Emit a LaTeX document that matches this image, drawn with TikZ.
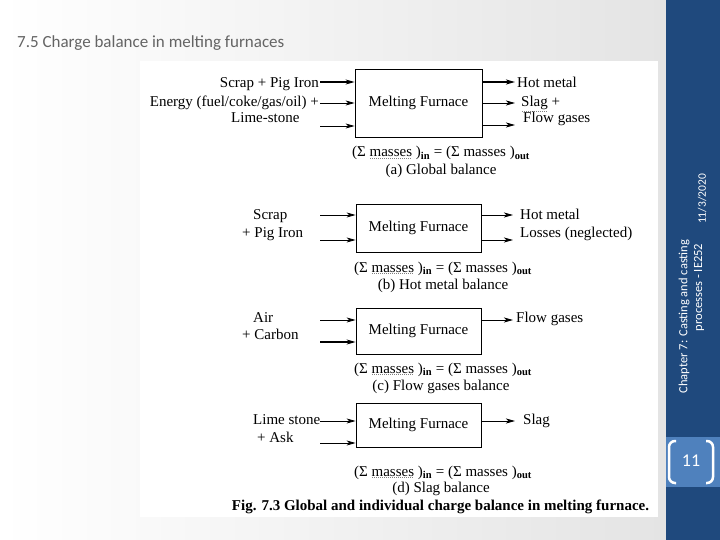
\documentclass[tikz,border=0pt]{standalone}
\usepackage{fontspec}
\setmainfont{Liberation Serif}
\newfontfamily\calfont{Carlito}
\usetikzlibrary{arrows.meta}
\definecolor{band}{RGB}{31,73,125}
\definecolor{bandlt}{RGB}{79,129,189}
\definecolor{titlegray}{RGB}{100,100,100}
\definecolor{bggray}{RGB}{228,228,228}
\newcommand\dfont{\fontsize{15}{17}\selectfont}
\newcommand\dotul[1]{\setbox0\hbox{#1}\leavevmode\vtop{\copy0\nointerlineskip\kern0.8pt\hbox to\wd0{\color{gray}\leaders\hbox to 2pt{\hss\vrule width 0.8pt height 0.5pt\hss}\hfill}}}
\tikzset{
 box/.style={draw, line width=0.8pt, inner sep=0pt, font=\dfont},
 arr/.style={line width=0.8pt, -{Stealth[length=9pt,width=5pt,inset=2.5pt]}},
 thickarr/.style={arr, line width=1.3pt},
 lbl/.style={inner sep=0pt, font=\dfont},
 bandtext/.style={inner sep=0pt, rotate=90, text=white, font=\calfont\fontsize{12.5}{14}\selectfont},
}
\begin{document}
\begin{tikzpicture}[x=1pt,y=-1pt]
\useasboundingbox (0,0) rectangle (720,540);
\shade[left color=white, right color=bggray] (0,0) rectangle (666,540);
\fill[white] (140,61) rectangle (658,517);
\fill[band] (666,0) rectangle (720,540);
\fill[bandlt] (666,437) rectangle (720,487);

% title
\node[anchor=base west, inner sep=0pt, text=titlegray, font=\calfont\fontsize{17}{20}\selectfont] (title) at (17,48) {7.5 Charge balance in melting furnaces};

% band texts
\node[bandtext] (chap) at (684,316.5) {Chapter 7: Casting and casting};
\node[bandtext] (proc) at (699,287.5) {processes - IE252};
\node[bandtext, font=\calfont\fontsize{11.5}{13}\selectfont] (date) at (702,199) {11/3/2020};
\node[inner sep=0pt, text=white, font=\calfont\fontsize{18}{22}\selectfont] (pg) at (691,461) {11};
\draw[white, line width=2.5pt, rounded corners=6pt] (676,441) -- (669,441) -- (669,483) -- (676,483);
\draw[white, line width=2.5pt, rounded corners=6pt] (706,441) -- (713,441) -- (713,483) -- (706,483);

% ---------- (a)
\node[box, minimum width=127pt, minimum height=68pt] (fa) at (418.5,103) {Melting Furnace};
\coordinate (ia1) at (320,82);
\coordinate (ia2) at (320,103);
\coordinate (ia3) at (320,126);
\coordinate (oa1) at (515,82);
\coordinate (oa2) at (515,103);
\coordinate (oa3) at (515,125);
\draw[thickarr] (ia1) -- (ia1 -| fa.west);
\draw[arr] (ia2) -- (ia2 -| fa.west);
\draw[arr] (ia3) -- (ia3 -| fa.west);
\draw[thickarr] (oa1 -| fa.east) -- (oa1);
\draw[arr] (oa2 -| fa.east) -- (oa2);
\draw[arr] (oa3 -| fa.east) -- (oa3);
\node[lbl, anchor=base east] (la1) at (319,88) {Scrap + Pig Iron};
\node[lbl, anchor=base east] (la2) at (319,107) {Energy (fuel/coke/gas/oil) +};
\node[lbl, anchor=base west] (la3) at (231,123) {Lime-stone};
\node[lbl, anchor=base west] (ra1) at (517,88) {Hot metal};
\node[lbl, anchor=base west] (ra2) at (521,107) {\dotul{Slag} +};
\node[lbl, anchor=base west] (ra3) at (523,123) {Flow gases};
\node[lbl, anchor=base] (ea) at (441,157) {(Σ \dotul{masses} )\textsubscript{\bfseries in} = (Σ masses )\textsubscript{\bfseries out}};
\node[lbl, anchor=base] (ca) at (441,175) {(a) Global balance};

% ---------- (b)
\node[box, minimum width=125pt, minimum height=48pt] (fb) at (418.5,228) {Melting Furnace};
\coordinate (ib1) at (320,215);
\coordinate (ib2) at (320,240);
\coordinate (ob1) at (513,215);
\coordinate (ob2) at (513,240);
\draw[arr] (ib1) -- (ib1 -| fb.west);
\draw[arr] (ib2) -- (ib2 -| fb.west);
\draw[arr] (ob1 -| fb.east) -- (ob1);
\draw[arr] (ob2 -| fb.east) -- (ob2);
\node[lbl, anchor=base west] (lb1) at (253,219) {Scrap};
\node[lbl, anchor=base west] (lb2) at (242,237) {+ Pig Iron};
\node[lbl, anchor=base west] (rb1) at (520,219) {Hot metal};
\node[lbl, anchor=base west] (rb2) at (520,237) {Losses (neglected)};
\node[lbl, anchor=base] (eb) at (443,272) {(Σ \dotul{masses} )\textsubscript{\bfseries in} = (Σ masses )\textsubscript{\bfseries out}};
\node[lbl, anchor=base] (cb) at (443,289) {(b) Hot metal balance};

% ---------- (c)
\node[box, minimum width=125pt, minimum height=46pt] (fc) at (418.5,331) {Melting Furnace};
\coordinate (ic1) at (320,320);
\coordinate (ic2) at (320,342);
\coordinate (oc1) at (513,320);
\draw[arr] (ic1) -- (ic1 -| fc.west);
\draw[thickarr] (ic2) -- (ic2 -| fc.west);
\draw[arr] (oc1 -| fc.east) -- (oc1);
\node[lbl, anchor=base west] (lc1) at (253,322) {Air};
\node[lbl, anchor=base west] (lc2) at (242,339) {+ Carbon};
\node[lbl, anchor=base west] (rc1) at (516,322) {Flow gases};
\node[lbl, anchor=base] (ec) at (443,373) {(Σ \dotul{masses} )\textsubscript{\bfseries in} = (Σ masses )\textsubscript{\bfseries out}};
\node[lbl, anchor=base] (cc) at (441,390) {(c) Flow gases balance};

% ---------- (d)
\node[box, minimum width=125pt, minimum height=44pt] (fd) at (418.5,425) {Melting Furnace};
\coordinate (id1) at (320,421);
\coordinate (id2) at (320,443);
\coordinate (od1) at (515,421);
\draw[arr] (id1) -- (id1 -| fd.west);
\draw[arr] (id2) -- (id2 -| fd.west);
\draw[arr] (od1 -| fd.east) -- (od1);
\node[lbl, anchor=base west] (ld1) at (253,424) {Lime stone};
\node[lbl, anchor=base west] (ld2) at (257,442) {+ Ask};
\node[lbl, anchor=base west] (rd1) at (523,424) {Slag};
\node[lbl, anchor=base] (ed) at (443,476) {(Σ \dotul{masses} )\textsubscript{\bfseries in} = (Σ masses )\textsubscript{\bfseries out}};
\node[lbl, anchor=base] (cd) at (441,492) {(d) Slag balance};

\node[lbl, anchor=base, font=\bfseries\fontsize{15}{17}\selectfont] (fig) at (440.5,510) {Fig. 7.3 Global and individual charge balance in melting furnace.};
\end{tikzpicture}
\end{document}
